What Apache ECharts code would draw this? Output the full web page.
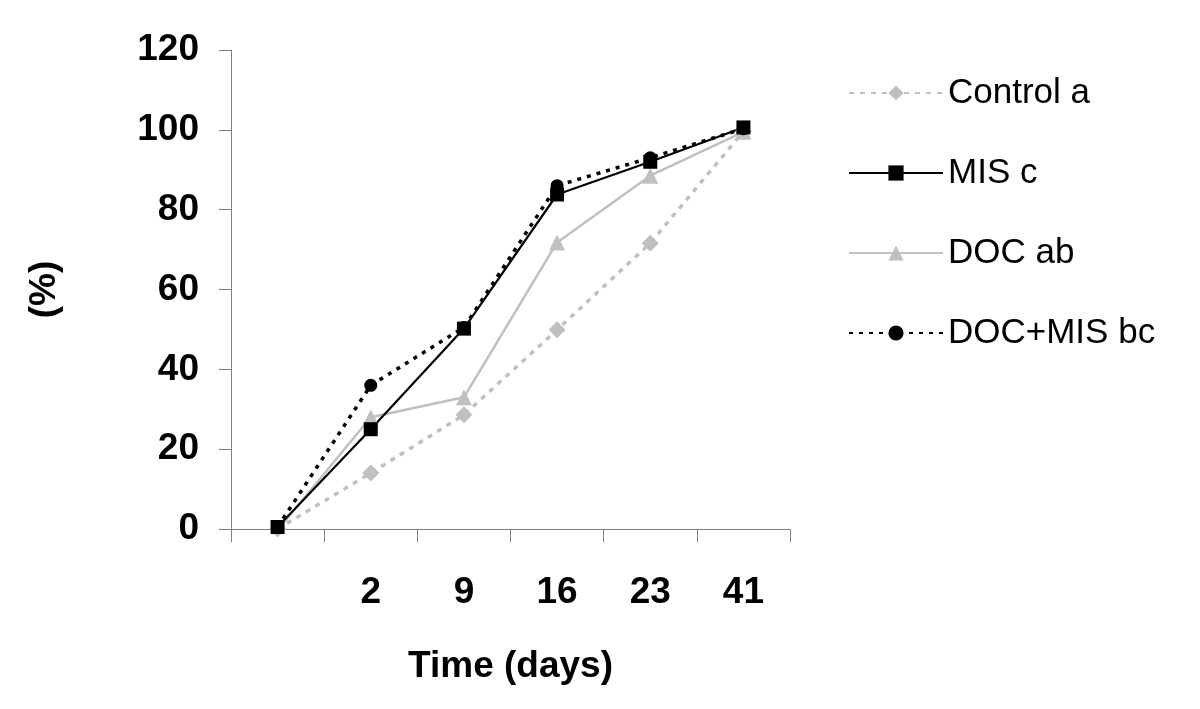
<!DOCTYPE html>
<html>
<head>
<meta charset="utf-8">
<script src="https://cdn.jsdelivr.net/npm/echarts@6/dist/echarts.min.js"></script>
<style>html,body{margin:0;padding:0;background:#fff}#c{width:1200px;height:709px}</style>
</head>
<body>
<div id="c"></div>
<script>
const categories = ['', '2', '9', '16', '23', '41'];
const control = [0, 14, 28.6, 49.9, 71.6, 99.6];
const mis = [0.5, 25, 50.2, 83.8, 92, 100.6];
const doc = [-0.3, 28, 33, 71.8, 88.5, 99.5];
const docMis = [0.5, 36, 50.5, 86, 93, 100.3];
const yTicks = { min: 0, max: 120, interval: 20 };

const gray = '#c0c0c0';
const font = 'Liberation Sans, Arial, sans-serif';
const chart = echarts.init(document.getElementById('c'));
chart.setOption({
  animation: false,
  backgroundColor: '#fff',
  grid: { left: 231, right: 410, top: 50, bottom: 180 },
  legend: {
    orient: 'vertical', left: 843, top: 68,
    itemWidth: 94, itemHeight: 19, itemGap: 40,
    textStyle: { fontFamily: font, fontSize: 35, color: '#000', lineHeight: 40 },
    data: ['Control a', 'MIS c', 'DOC ab', 'DOC+MIS bc']
  },
  xAxis: {
    type: 'category', data: categories, boundaryGap: true,
    name: 'Time (days)', nameLocation: 'middle', nameGap: 119,
    nameTextStyle: { fontFamily: font, fontSize: 37, fontWeight: 'bold', color: '#000' },
    axisLine: { lineStyle: { color: '#808080', width: 1 } },
    axisTick: { show: true, length: 13, alignWithLabel: false, lineStyle: { color: '#808080' } },
    axisLabel: { fontFamily: font, fontSize: 37, fontWeight: 'bold', color: '#000', margin: 45 },
    splitLine: { show: false }
  },
  yAxis: {
    type: 'value', min: yTicks.min, max: yTicks.max, interval: yTicks.interval,
    name: '(%)', nameLocation: 'middle', nameGap: 168, nameRotate: 90,
    nameTextStyle: { fontFamily: font, fontSize: 37, fontWeight: 'bold', color: '#000' },
    axisLine: { show: true, lineStyle: { color: '#808080', width: 1 } },
    axisTick: { show: true, length: 12, lineStyle: { color: '#808080' } },
    axisLabel: { fontFamily: font, fontSize: 37, fontWeight: 'bold', color: '#000', margin: 32 },
    splitLine: { show: false }
  },
  series: [
    { name: 'Control a', type: 'line', data: control, symbol: 'diamond', symbolSize: 17,
      itemStyle: { color: gray }, lineStyle: { color: gray, width: 3.5, type: [5, 6] } },
    { name: 'DOC ab', type: 'line', data: doc, symbol: 'triangle', symbolSize: 16,
      itemStyle: { color: gray }, lineStyle: { color: gray, width: 2.5, type: 'solid' } },
    { name: 'MIS c', type: 'line', data: mis, symbol: 'rect', symbolSize: 14,
      itemStyle: { color: '#000' }, lineStyle: { color: '#000', width: 2.2, type: 'solid' } },
    { name: 'DOC+MIS bc', type: 'line', data: docMis, symbol: 'circle', symbolSize: 13,
      itemStyle: { color: '#000' }, lineStyle: { color: '#000', width: 3.5, type: [4, 6] } }
  ]
});
</script>
</body>
</html>
